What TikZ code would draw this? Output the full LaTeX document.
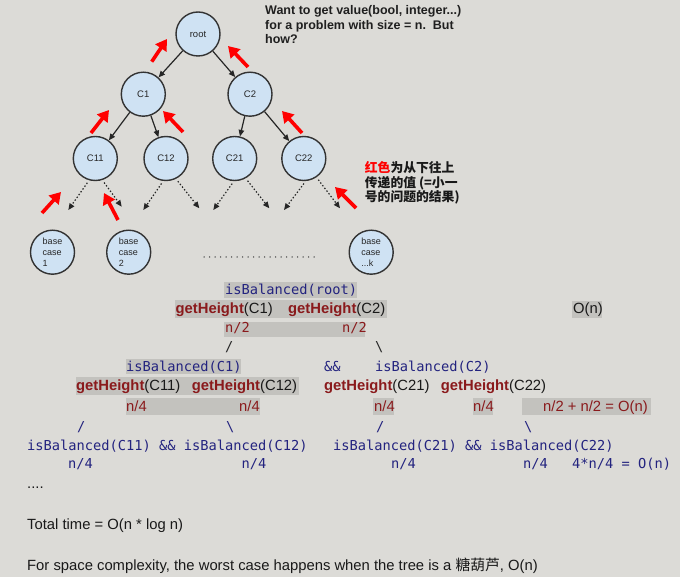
\documentclass[tikz,border=0pt]{standalone}
\usepackage{fontspec}
\setmainfont{Liberation Sans}
\setmonofont{DejaVu Sans Mono}
\newfontfamily\cjk{Noto Sans CJK SC}
\usetikzlibrary{arrows.meta}
\definecolor{bg}{HTML}{DCDBD7}
\definecolor{hlgray}{HTML}{C3C2BE}
\definecolor{nodeblue}{HTML}{CFE2F3}
\definecolor{navy}{HTML}{23237F}
\definecolor{dred}{HTML}{8A1A1C}
\begin{document}
\begin{tikzpicture}[x=1pt,y=-1pt,
  tnode/.style={circle,draw=black!80,line width=1.4pt,fill=nodeblue,minimum size=44pt,inner sep=0pt,font=\fontsize{9.5}{11}\selectfont,text=black!85},
  bnode/.style={tnode,align=left,font=\fontsize{9}{10.7}\selectfont},
  edgearrow/.style={draw=black!85,line width=1.2pt,-{Triangle[length=6.5pt,width=5.5pt]}},
  dotarrow/.style={edgearrow,dash pattern=on 1.4pt off 2pt,shorten <=3pt},
  redarrow/.style={draw=red,line width=3.6pt,-{Triangle[length=11pt,width=13pt]}},
  hl/.style={fill=hlgray,draw=none},
  mono/.style={anchor=base west,inner sep=0pt,font=\fontsize{13.7}{16}\selectfont\ttfamily,text=navy},
  sans/.style={anchor=base west,inner sep=0pt,font=\fontsize{14.8}{17}\selectfont,text=black!90},
  note/.style={anchor=base west,inner sep=0pt,font=\fontsize{12.5}{14.5}\selectfont\bfseries,text=black!88},
  cnote/.style={anchor=base west,inner sep=0pt,font=\fontsize{12.8}{14.5}\selectfont\cjk\bfseries,text=black!90}
]
\fill[bg] (0,0) rectangle (680,577);
\useasboundingbox (0,0) rectangle (680,577);

% ---------- tree ----------
\node[tnode] (root) at (198,34) {root};
\node[tnode] (C1) at (143.3,94.2) {C1};
\node[tnode] (C2) at (250,94.2) {C2};
\node[tnode] (C11) at (95.3,158.5) {C11};
\node[tnode] (C12) at (166,158.5) {C12};
\node[tnode] (C21) at (234.7,158.5) {C21};
\node[tnode] (C22) at (303.8,158.5) {C22};
\node[bnode] (B1) at (52.5,252.2) {base\\case\\1};
\node[bnode] (B2) at (128.7,252.2) {base\\case\\2};
\node[bnode] (Bk) at (371.2,252.2) {base\\case\\...k};

\draw[edgearrow] (root) -- (C1);
\draw[edgearrow] (root) -- (C2);
\draw[edgearrow] (C1) -- (C11);
\draw[edgearrow] (C1) -- (C12);
\draw[edgearrow] (C2) -- (C21);
\draw[edgearrow] (C2) -- (C22);

\coordinate (e11a) at (68.3,210);
\coordinate (e11b) at (121.7,206.7);
\coordinate (e12a) at (143.3,210);
\coordinate (e12b) at (199.3,208.3);
\coordinate (e21a) at (213.3,210);
\coordinate (e21b) at (269.3,208.3);
\coordinate (e22a) at (284,210);
\coordinate (e22b) at (340,208.3);
\draw[dotarrow] (C11.-106) -- (e11a);
\draw[dotarrow] (C11.-72) -- (e11b);
\draw[dotarrow] (C12.-97) -- (e12a);
\draw[dotarrow] (C12.-64) -- (e12b);
\draw[dotarrow] (C21.-92) -- (e21a);
\draw[dotarrow] (C21.-61) -- (e21b);
\draw[dotarrow] (C22.-85) -- (e22a);
\draw[dotarrow] (C22.-56) -- (e22b);

\draw[line width=1.5pt,dash pattern=on 0pt off 5.5pt,line cap=round,black!75] (204,257) -- (315,257);

% red arrows
\draw[redarrow] (151.7,61.7) -- (167,39);
\draw[redarrow] (248,67) -- (228,46);
\draw[redarrow] (91,133) -- (109,110);
\draw[redarrow] (183,132) -- (163,111);
\draw[redarrow] (302,133) -- (282,111);
\draw[redarrow] (42,213) -- (61,192);
\draw[redarrow] (118,220) -- (104,193);
\draw[redarrow] (356,208) -- (335,187);

% notes
\node[note] (n1) at (265,15) {Want to get value(bool, integer...)};
\node[note] (n2) at (265,29.5) {for a problem with size = n.\ \ But};
\node[note] (n3) at (265,44) {how?};
\node[cnote] (r1) at (364.7,173) {{\color{red}红色}为从下往上};
\node[cnote] (r2) at (364.7,187.5) {传递的值 (=小一};
\node[cnote] (r3) at (364.7,201.7) {号的问题的结果)};

% ---------- analysis ----------
\fill[hl] (224,282) rectangle (357,298);
\fill[hl] (175,300) rectangle (387,318);
\fill[hl] (224,322) rectangle (365,337);
\fill[hl] (572,301) rectangle (602,318);
\fill[hl] (126,359) rectangle (241,374);
\fill[hl] (76,377) rectangle (299,395);
\fill[hl] (126,398) rectangle (260,415);
\fill[hl] (373,398) rectangle (394,415);
\fill[hl] (473,398) rectangle (493,415);
\fill[hl] (522,398) rectangle (651,415);

\node[mono] (a1) at (225,295) {isBalanced(root)};
\node[sans] (a2) at (175.5,313) {\textbf{\color{dred}getHeight}(C1)};
\node[sans] (a3) at (288,313) {\textbf{\color{dred}getHeight}(C2)};
\node[sans] (a4) at (573,314) {O(n)};
\node[mono,text=dred] (a5) at (225,333) {n/2};
\node[mono,text=dred] (a6) at (342,333) {n/2};
\node[mono,text=black!85] (a7) at (225,352) {/};
\node[mono,text=black!85] (a8) at (375,352) {\textbackslash};

\node[mono] (b1) at (126,371) {isBalanced(C1)};
\node[mono] (b2) at (324,371) {\&\&};
\node[mono] (b3) at (375,371) {isBalanced(C2)};
\node[sans] (b4) at (76,390.7) {\textbf{\color{dred}getHeight}(C11)};
\node[sans] (b5) at (191.7,390.7) {\textbf{\color{dred}getHeight}(C12)};
\node[sans] (b6) at (324,390.7) {\textbf{\color{dred}getHeight}(C21)};
\node[sans] (b7) at (440.7,390.7) {\textbf{\color{dred}getHeight}(C22)};
\node[sans,text=dred] (b8) at (126,411) {n/4};
\node[sans,text=dred] (b9) at (239,411) {n/4};
\node[sans,text=dred] (b10) at (374,411) {n/4};
\node[sans,text=dred] (b11) at (473,411) {n/4};
\node[sans,text=dred] (b12) at (543,411) {n/2 + n/2 = O(n)};

\node[mono] (c1) at (77,431) {/};
\node[mono] (c2) at (226,431) {\textbackslash};
\node[mono] (c3) at (376,431) {/};
\node[mono] (c4) at (524,431) {\textbackslash};
\node[mono] (c5) at (27,450) {isBalanced(C11) \&\& isBalanced(C12)};
\node[mono] (c6) at (333,450) {isBalanced(C21) \&\& isBalanced(C22)};
\node[mono] (c7) at (68,468.3) {n/4};
\node[mono] (c8) at (241.5,468.3) {n/4};
\node[mono] (c9) at (391,468.3) {n/4};
\node[mono] (c10) at (523,468.3) {n/4};
\node[mono] (c11) at (572,468.3) {4*n/4 = O(n)};

\node[sans] (d1) at (27,488) {....};
\node[sans] (d2) at (27,529.3) {Total time = O(n * log n)};
\node[sans] (d3) at (27,570) {For space complexity, the worst case happens when the tree is a {\cjk 糖葫芦}, O(n)};
\end{tikzpicture}
\end{document}
